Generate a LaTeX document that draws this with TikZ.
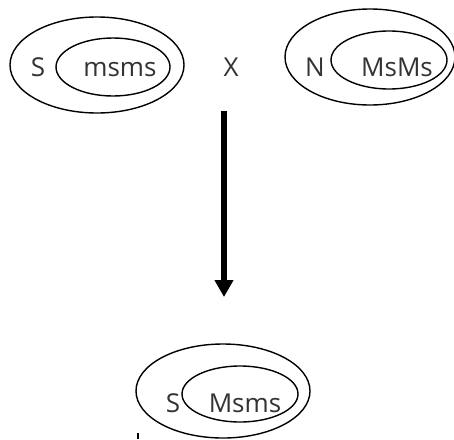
\documentclass[tikz,border=0pt]{standalone}
\usepackage{fontspec}
\setmainfont{Open Sans}
\usetikzlibrary{arrows.meta}
\begin{document}
\begin{tikzpicture}[x=1pt,y=-1pt,
  ring/.style={draw=black,line width=1.4pt},
  lbl/.style={inner sep=0pt,anchor=base,font=\fontsize{26}{31}\selectfont\color[gray]{0.2}},
  bigarrow/.style={line width=6pt,-{Triangle[width=18pt,length=17pt]}}]
\useasboundingbox (0,0) rectangle (454,439);
\clip (0,0) rectangle (454,439);
% top left
\draw[ring] (97,65) ellipse [x radius=87, y radius=48];
\draw[ring] (113,67) ellipse [x radius=57, y radius=29];
\node[lbl] (s1) at (38,76) {S};
\node[lbl] (m1) at (120,76) {msms};
% cross
\node[lbl] (x) at (231,76) {X};
% top right
\draw[ring] (370,57) ellipse [x radius=85, y radius=48];
\draw[ring] (389,60) ellipse [x radius=58, y radius=29];
\node[lbl] (n1) at (315,76) {N};
\node[lbl] (m2) at (397,76) {MsMs};
% arrow
\coordinate (a1) at (224,111);
\coordinate (a2) at (224,297);
\draw[bigarrow] (a1) -- (a2);
% bottom
\draw[ring] (223,391) ellipse [x radius=87, y radius=47];
\draw[ring] (240,394) ellipse [x radius=58, y radius=28];
\node[lbl] (s2) at (173,412) {S};
\node[lbl] (m3) at (245,412) {Msms};
% small tick
\coordinate (t1) at (138,433);
\coordinate (t2) at (138,439);
\draw[line width=1.3pt] (t1) -- (t2);
\end{tikzpicture}
\end{document}
